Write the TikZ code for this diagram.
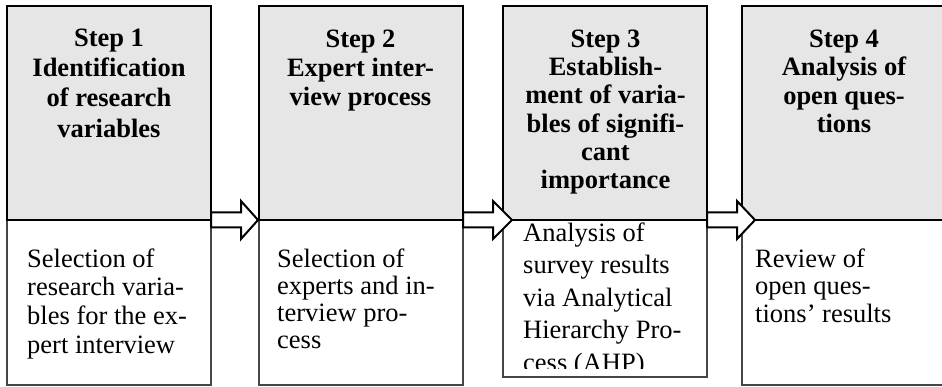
\documentclass[tikz,border=0pt]{standalone}
\usepackage{fontspec}
\setmainfont{Liberation Serif}
\usetikzlibrary{calc}
\definecolor{headfill}{RGB}{230,230,230}
\definecolor{bodyline}{RGB}{70,70,70}

% block arrow from the edge point #1 to the tip #2, head length #3 (pt)
\newcommand\flowarrow[3]{%
  \draw[blockarrow] let \p1=(#1), \p2=(#2) in
    (\x1,\y1+7.5pt) -- (\x2-#3pt,\y1+7.5pt) -- (\x2-#3pt,\y1+19pt) -- (\x2,\y1)
    -- (\x2-#3pt,\y1-19pt) -- (\x2-#3pt,\y1-7.5pt) -- (\x1,\y1-7.5pt) -- cycle;}

\begin{document}
\begin{tikzpicture}[x=1pt,y=-1pt,
  headbox/.style={draw=black, line width=2pt, fill=headfill, inner sep=0pt, outer sep=0pt,
    anchor=north west, minimum width=204pt, minimum height=214pt},
  bodybox/.style={draw=bodyline, line width=1.3pt, fill=white, inner sep=0pt, outer sep=0pt,
    anchor=north west, minimum width=204pt},
  headtext/.style={font=\fontsize{26.5}{#1}\selectfont\bfseries, align=center,
    inner sep=0pt, anchor=north},
  bodytext/.style={font=\fontsize{26.5}{#1}\selectfont, align=left,
    inner sep=0pt, anchor=north west},
  blockarrow/.style={draw=black, line width=2pt, fill=white, line join=miter}]
\useasboundingbox (0,0) rectangle (942,387);

% lower (description) boxes
\node[bodybox, minimum height=165pt] (body1) at (7,220) {};
\node[bodybox, minimum height=165pt] (body2) at (259,220) {};
\node[bodybox, minimum height=157pt] (body3) at (503,220) {};
\node[bodybox, minimum height=165pt] (body4) at (742,220) {};

% upper (step) boxes
\node[headbox] (head1) at (7,6) {};
\node[headbox] (head2) at (259,6) {};
\node[headbox] (head3) at (503,6) {};
\node[headbox] (head4) at (742,6) {};

% arrows between the steps
\flowarrow{head1.south east}{$(head2.south west)+(-1,0)$}{17}
\flowarrow{head2.south east}{$(head3.south west)+(9,0)$}{19}
\flowarrow{head3.south east}{$(head4.south west)+(13,0)$}{18}

% step titles
\node[headtext=30.3] (t1) at (109,26) {\rule{0pt}{20pt}Step 1\\Identification\\of research\\variables};
\node[headtext=29] (t2) at (360.5,27) {\rule{0pt}{20pt}Step 2\\Expert inter-\\view process};
\node[headtext=28.3] (t3) at (605.5,27) {\rule{0pt}{20pt}Step 3\\Establish-\\ment of varia-\\bles of signifi-\\cant\\importance};
\node[headtext=28.5] (t4) at (844,27) {\rule{0pt}{20pt}Step 4\\Analysis of\\open ques-\\tions};

% descriptions
\node[bodytext=28.7] (d1) at (27,247) {\rule{0pt}{20pt}Selection of\\research varia-\\bles for the ex-\\pert interview};
\node[bodytext=27] (d2) at (277,247) {\rule{0pt}{20pt}Selection of\\experts and in-\\terview pro-\\cess};
\begin{scope}
  % the last line runs past the frame and is cut off
  \clip (503,220) rectangle (708,368);
  \node[bodytext=32.5] (d3) at (523,221) {\rule{0pt}{20pt}Analysis of\\survey results\\via Analytical\\Hierarchy Pro-\\cess (AHP)};
\end{scope}
\node[bodytext=27.5] (d4) at (755,247) {\rule{0pt}{20pt}Review of\\open ques-\\tions’ results};
\end{tikzpicture}
\end{document}
